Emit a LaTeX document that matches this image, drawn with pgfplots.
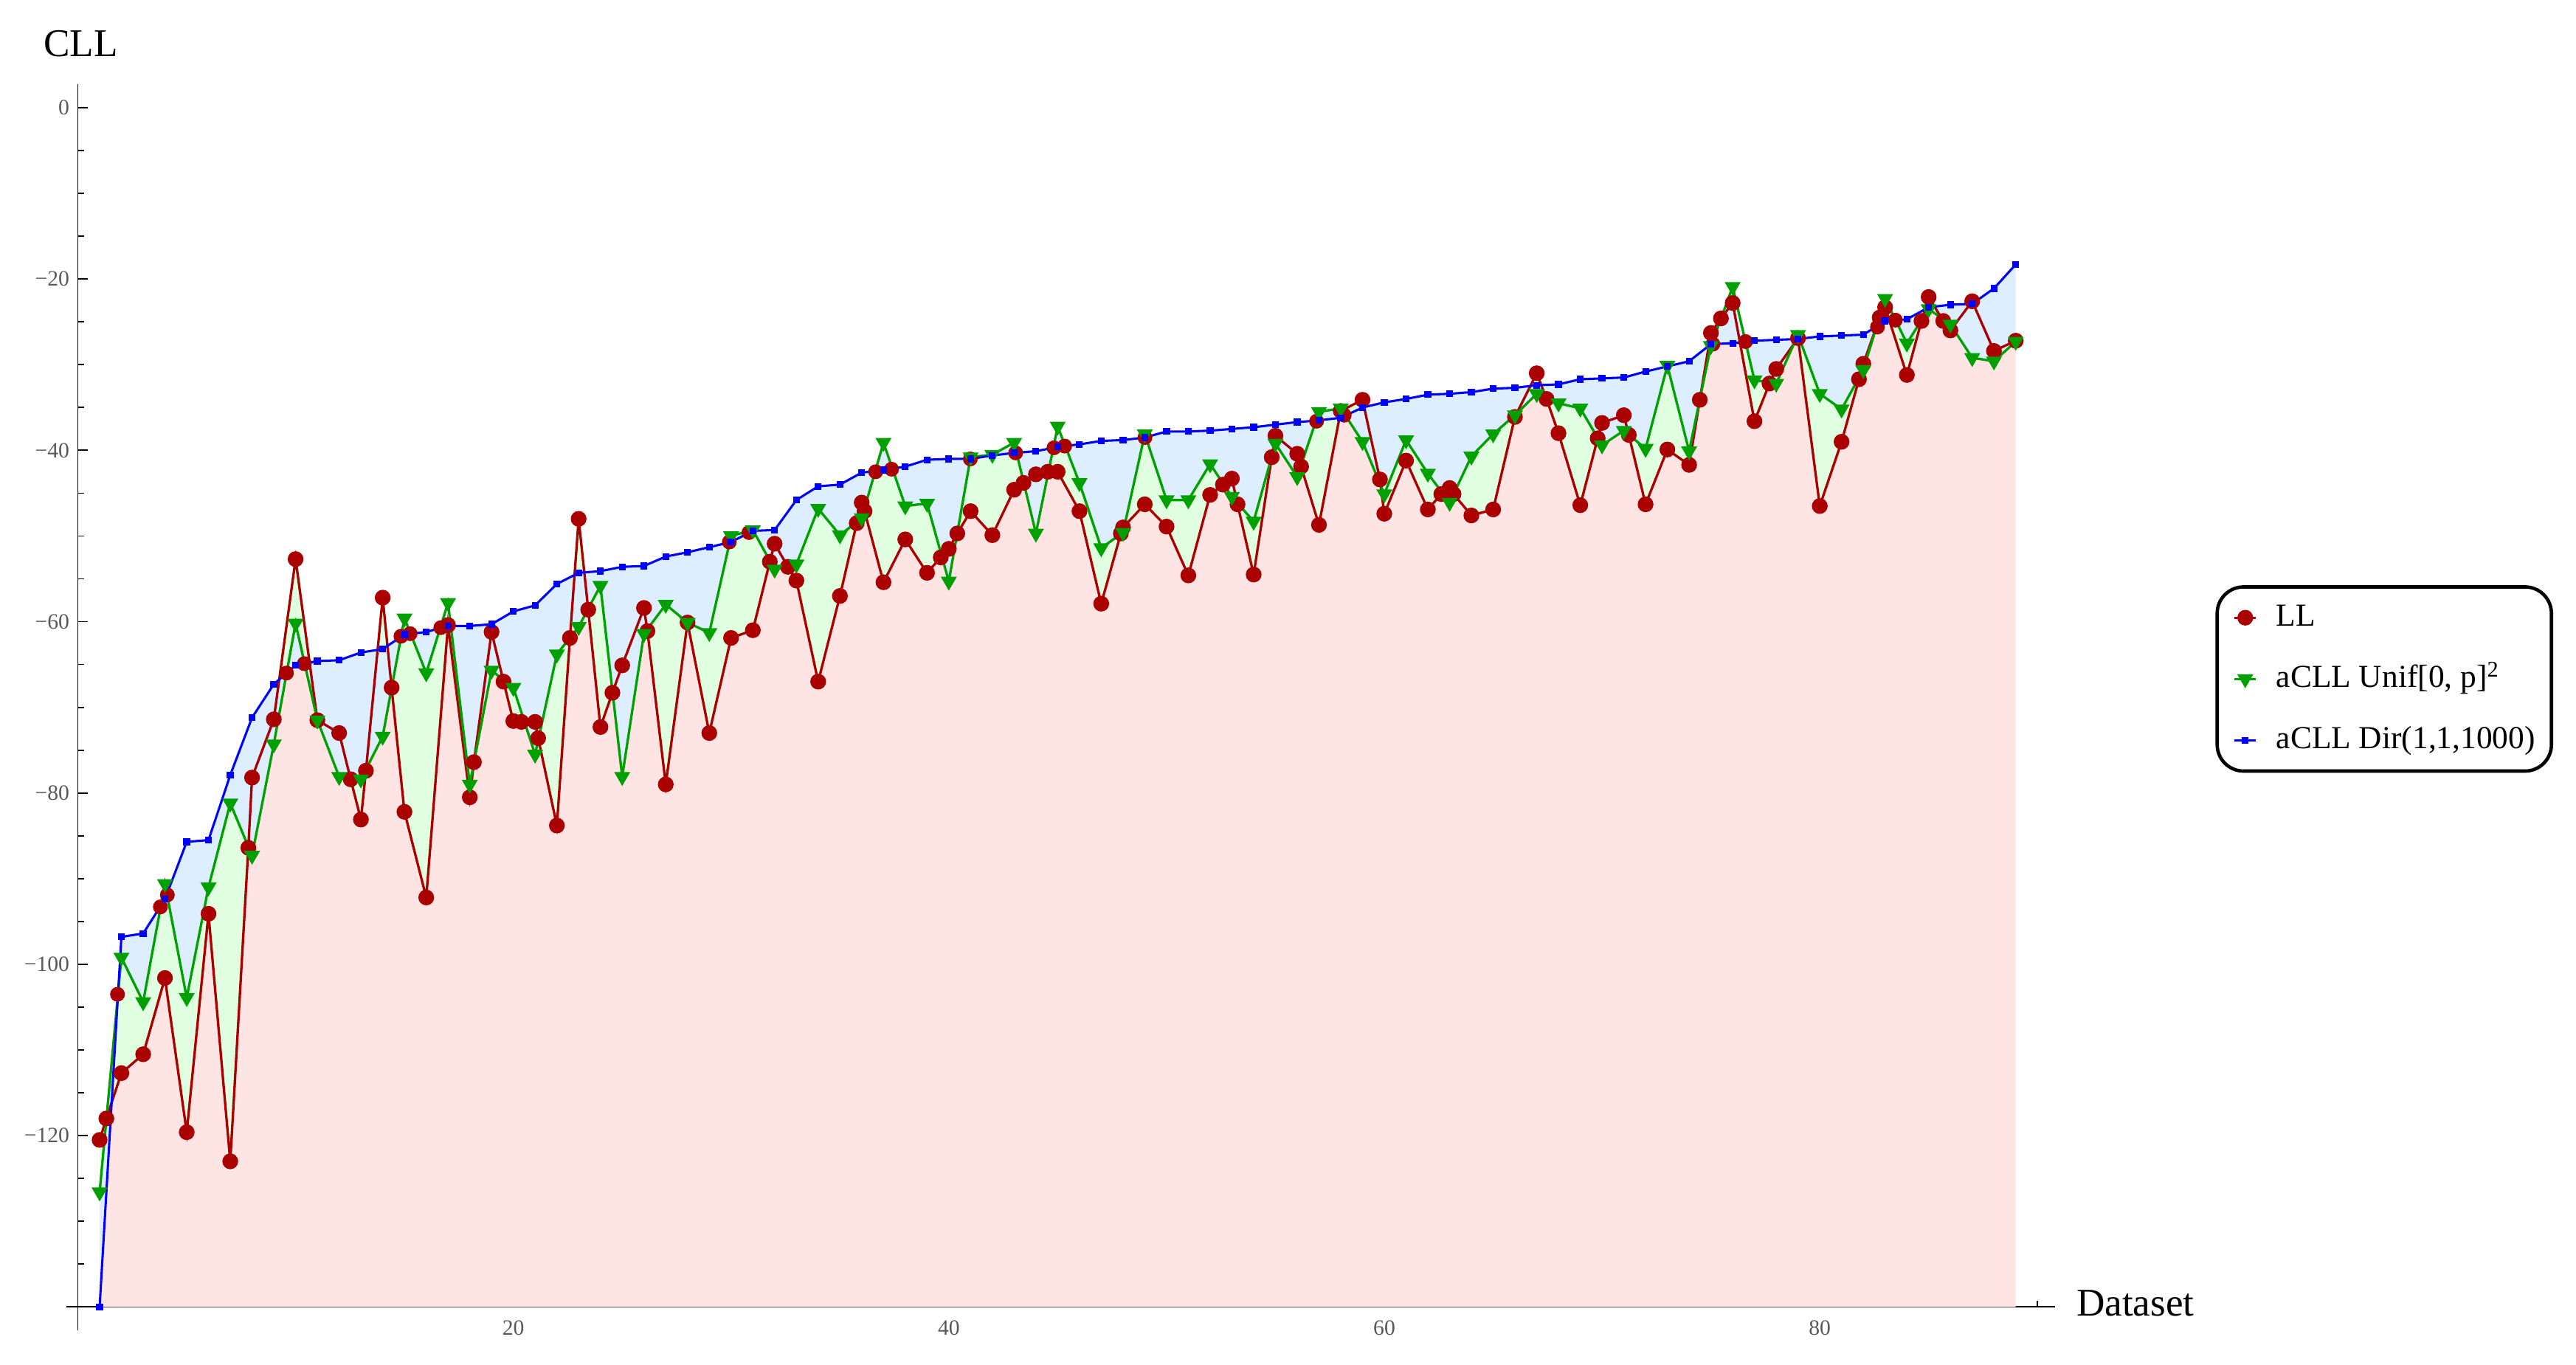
\documentclass[border=0pt]{standalone}
\usepackage{fontspec}
\setmainfont{Liberation Serif}
\usepackage{pgfplots}
\pgfplotsset{compat=1.18}
\usepgfplotslibrary{fillbetween}

\definecolor{llred}{RGB}{170,0,0}
\definecolor{unifgreen}{RGB}{0,160,0}
\definecolor{dirblue}{RGB}{0,0,255}
\definecolor{pinkfill}{RGB}{255,228,228}
\definecolor{greenfill}{RGB}{224,255,224}
\definecolor{bluefill}{RGB}{220,238,255}

\begin{document}
\begin{tikzpicture}
\begin{axis}[
    at={(0.7253cm,0.5404cm)}, anchor=south west,
    scale only axis, width=18.42cm, height=11.392cm,
    xmin=0, xmax=90.8, ymin=-140, ymax=2.73,
    axis lines=left, axis line style={-, line width=0.35pt},
    x axis line style={shorten <=-0.11cm},
    y axis line style={shorten <=-0.22cm},
    clip=false,
    tick align=inside,
    major tick length=0.092cm, minor tick length=0.057cm,
    tick style={line width=0.35pt, black},
    xtick={20,40,60,80}, xticklabels={20,40,60,80},
    minor xtick={5,10,15,25,30,35,45,50,55,65,70,75,85,90},
    ytick={-120,-100,-80,-60,-40,-20,0},
    yticklabels={−120,−100,−80,−60,−40,−20,0},
    minor ytick={-135,-130,-125,-115,-110,-105,-95,-90,-85,-75,-70,-65,-55,-50,-45,-35,-30,-25,-15,-10,-5},
    tick label style={font=\fontsize{5.8}{7}\selectfont, text=black!65},
    yticklabel style={inner sep=0pt, anchor=east, xshift=-0.072cm},
    xticklabel style={inner sep=0pt, anchor=north, yshift=-0.12cm},
    legend style={at={(1.0812,0.5903)}, anchor=north west,
        draw=black, line width=0.9pt, rounded corners=7pt,
        font=\fontsize{8.5}{10}\selectfont,
        inner xsep=0.15cm, inner ysep=0.12cm,
        row sep=0.237cm, column sep=0.177cm,
        nodes={inner sep=0pt, text height=0.7em, text depth=0.25em}},
    legend cell align=left,
    legend image code/.code={\draw[line width=0.65pt] (-0.1cm,0cm) -- (0.1cm,0cm); \draw plot[only marks] coordinates {(0cm,0cm)};},
]
\addplot[name path=ll, color=llred, line width=0.65pt, mark=*, mark size=1.76pt] coordinates {
(1,-120.5) (1.31,-118.0) (2,-112.7) (3,-110.5) (4,-101.6) (5,-119.6) (6,-94.1) (7,-123.0) (7.83,-86.4) (8,-78.2)
(9,-71.4) (10,-52.7) (11,-71.5) (12,-73.0) (12.53,-78.4) (13,-83.1) (13.23,-77.4) (14,-57.2) (14.41,-67.7) (15,-82.2)
(16,-92.2) (17,-60.4) (18,-80.5) (18.19,-76.4) (19,-61.2) (19.55,-67.0) (20,-71.6) (20.37,-71.7) (21,-71.7) (21.14,-73.6)
(22,-83.8) (22.6,-61.9) (23,-48.0) (23.44,-58.6) (24,-72.3) (24.55,-68.3) (25,-65.1) (26,-58.4) (26.16,-61.1) (27,-79.0)
(28,-60.1) (29,-73.0) (30,-61.9) (31,-61.0) (31.78,-53.0) (32,-50.9) (32.61,-53.6) (33,-55.2) (34,-67.0) (35,-57.0)
(35.77,-48.5) (36,-46.1) (36.13,-47.1) (37,-55.4) (38,-50.4) (39,-54.3) (39.63,-52.5) (40,-51.5) (40.39,-49.7) (41,-47.1)
(42,-49.9) (43,-44.6) (43.43,-43.8) (44,-42.8) (44.55,-42.5) (45,-42.5) (46,-47.1) (47,-57.9) (47.9,-49.7) (48,-49.0)
(49,-46.3) (50,-48.9) (51,-54.6) (52,-45.2) (52.59,-44.0) (53,-43.3) (53.26,-46.3) (54,-54.5) (54.83,-40.8) (55,-38.3)
(56,-40.4) (56.18,-41.9) (57,-48.7) (58,-35.4) (59,-34.1) (59.8,-43.4) (60,-47.4) (61,-41.2) (62,-46.9) (62.62,-45.1)
(63,-44.4) (63.18,-45.1) (64,-47.6) (65,-46.9) (66,-36.1) (67,-31.0) (67.45,-34.0) (68,-38.0) (69,-46.4) (69.8,-38.6)
(70,-36.8) (71,-35.9) (71.23,-38.2) (72,-46.3) (73,-39.9) (74,-41.7) (74.49,-34.1) (75,-26.3) (75.46,-24.6) (76,-22.8)
(77,-36.6) (77.69,-32.2) (78,-30.5) (79,-26.9) (80,-46.5) (81,-39.0) (81.8,-31.7) (82,-29.9) (82.75,-24.5) (83,-23.3)
(84,-31.2) (84.67,-24.9) (85,-22.1) (85.67,-24.9) (86,-26.0) (87,-22.6) (88,-28.4) (89,-27.2)
};
\addlegendentry{LL}
\addplot[forget plot, only marks, color=llred, mark=*, mark size=1.76pt] coordinates {
(1.82,-103.5) (3.79,-93.3) (4.11,-91.9) (9.58,-66.0) (10.40,-64.9) (14.84,-61.7) (15.26,-61.4) (16.67,-60.7)
(29.92,-50.7) (30.82,-49.6) (36.64,-42.5) (37.37,-42.2) (40.99,-41.0) (43.07,-40.3) (44.83,-39.7) (45.32,-39.5)
(49.01,-38.5) (56.89,-36.6) (58.16,-35.9) (75.09,-27.6) (76.59,-27.3) (82.65,-25.6) (83.47,-24.8)
};
\addplot[name path=unif, color=unifgreen, line width=0.65pt, mark=triangle*, mark size=1.81pt, mark options={rotate=180}] coordinates {
(1,-126.6) (2,-99.2) (3,-104.4) (4,-90.6) (5,-103.9) (6,-91.0) (7,-81.2) (8,-87.3) (9,-74.3) (10,-60.2)
(11,-71.5) (12,-78.1) (13,-78.4) (14,-73.4) (15,-59.6) (16,-66.0) (17,-57.8) (18,-79.0) (19,-65.7) (20,-67.7)
(21,-75.5) (22,-63.8) (23,-60.6) (24,-55.8) (25,-78.1) (26,-61.4) (27,-58.0) (28,-60.1) (29,-61.3) (30,-50.0)
(31,-49.3) (32,-53.9) (33,-53.3) (34,-46.8) (35,-49.9) (36,-47.9) (37,-39.1) (38,-46.5) (39,-46.2) (40,-55.3)
(41,-40.8) (42,-40.5) (43,-39.1) (44,-49.7) (45,-37.2) (46,-43.8) (47,-51.4) (48,-49.6) (49,-38.1) (50,-45.8)
(51,-45.8) (52,-41.6) (53,-45.4) (54,-48.3) (55,-39.2) (56,-43.1) (57,-35.5) (58,-35.1) (59,-39.0) (60,-45.1)
(61,-38.8) (62,-42.7) (63,-46.1) (64,-40.7) (65,-38.1) (66,-35.9) (67,-33.4) (68,-34.5) (69,-35.1) (70,-39.4)
(71,-37.7) (72,-39.8) (73,-30.1) (74,-40.1) (75,-27.8) (76,-20.9) (77,-31.8) (78,-32.2) (79,-26.5) (80,-33.4)
(81,-35.2) (82,-30.6) (83,-22.3) (84,-27.5) (85,-23.5) (86,-25.3) (87,-29.2) (88,-29.6) (89,-27.3)
};
\addlegendentry{aCLL Unif[0, p]\textsuperscript{2}}
\addplot[name path=dir, color=dirblue, line width=0.6pt, mark=square*, mark size=0.6pt] coordinates {
(1,-140) (2,-96.8) (3,-96.4) (4,-92.4) (5,-85.7) (6,-85.5) (7,-77.9) (8,-71.2) (9,-67.3) (10,-65.1)
(11,-64.6) (12,-64.5) (13,-63.6) (14,-63.2) (15,-61.5) (16,-61.2) (17,-60.5) (18,-60.5) (19,-60.3) (20,-58.8)
(21,-58.1) (22,-55.6) (23,-54.3) (24,-54.1) (25,-53.6) (26,-53.5) (27,-52.4) (28,-51.9) (29,-51.3) (30,-50.7)
(31,-49.4) (32,-49.3) (33,-45.8) (34,-44.2) (35,-44.0) (36,-42.6) (37,-42.3) (38,-41.9) (39,-41.1) (40,-41.0)
(41,-41.0) (42,-40.6) (43,-40.3) (44,-40.1) (45,-39.6) (46,-39.3) (47,-38.9) (48,-38.8) (49,-38.5) (50,-37.8)
(51,-37.8) (52,-37.7) (53,-37.5) (54,-37.3) (55,-37.0) (56,-36.7) (57,-36.5) (58,-36.2) (59,-35.0) (60,-34.4)
(61,-34.0) (62,-33.5) (63,-33.4) (64,-33.2) (65,-32.8) (66,-32.7) (67,-32.4) (68,-32.3) (69,-31.7) (70,-31.6)
(71,-31.5) (72,-30.8) (73,-30.2) (74,-29.6) (75,-27.6) (76,-27.5) (77,-27.2) (78,-27.1) (79,-27.0) (80,-26.7)
(81,-26.6) (82,-26.5) (83,-24.9) (84,-24.7) (85,-23.3) (86,-23.0) (87,-22.9) (88,-21.1) (89,-18.3)
};
\addlegendentry{aCLL Dir(1,1,1000)}
\addplot[draw=none, name path=bot, forget plot] coordinates {(1,-140) (89,-140)};
\addplot[fill=pinkfill, draw=none, forget plot] fill between[of=ll and bot];
\addplot[fill=greenfill, draw=none, forget plot] fill between[of=unif and ll];
\addplot[fill=bluefill, draw=none, forget plot] fill between[of=dir and unif];
\end{axis}
\node[anchor=base west, inner sep=0pt, font=\fontsize{10.4}{12}\selectfont] at (0.399cm,12.189cm) {CLL};
\node[anchor=base west, inner sep=0pt, font=\fontsize{10.4}{12}\selectfont] at (19.339cm,0.4537cm) {Dataset};
\pgfresetboundingbox
\path[use as bounding box] (0,0) rectangle (24cm,12.718cm);
\end{tikzpicture}
\end{document}
